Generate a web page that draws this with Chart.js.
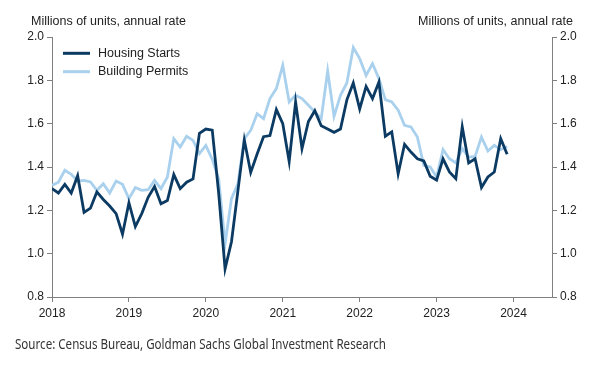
<!DOCTYPE html>
<html>
<head>
<meta charset="utf-8">
<script src="https://cdn.jsdelivr.net/npm/chart.js@4"></script>
<style>
html,body{margin:0;padding:0;background:#fff;}
#wrap{position:relative;width:589px;height:372px;}
</style>
</head>
<body>
<div id="wrap"><canvas id="c" width="589" height="372"></canvas></div>
<script>
// Monthly data, Jan 2018 .. Dec 2023 (millions of units, SAAR)
const startYear = 2018;
const seriesNames = ["Housing Starts", "Building Permits"];
const housingStarts = [
  1.30,1.28,1.32,1.28,1.36,1.19,1.21,1.285,1.25,1.22,1.185,1.09,
  1.235,1.125,1.185,1.26,1.31,1.23,1.245,1.365,1.30,1.33,1.345,1.555,
  1.575,1.57,1.28,0.93,1.055,1.29,1.525,1.375,1.46,1.54,1.545,1.665,
  1.60,1.425,1.70,1.485,1.61,1.66,1.59,1.575,1.56,1.575,1.71,1.788,
  1.668,1.772,1.716,1.792,1.542,1.562,1.369,1.505,1.469,1.438,1.428,1.357,
  1.339,1.438,1.377,1.346,1.585,1.419,1.438,1.305,1.354,1.377,1.531,1.459
];
const buildingPermits = [
  1.315,1.33,1.385,1.366,1.335,1.338,1.331,1.292,1.323,1.28,1.335,1.32,
  1.254,1.305,1.292,1.295,1.338,1.30,1.354,1.531,1.492,1.542,1.523,1.462,
  1.50,1.435,1.346,1.046,1.254,1.323,1.531,1.569,1.646,1.623,1.716,1.762,
  1.869,1.70,1.731,1.716,1.685,1.654,1.623,1.843,1.634,1.731,1.788,1.951,
  1.90,1.823,1.877,1.808,1.711,1.70,1.662,1.592,1.585,1.538,1.408,1.40,
  1.354,1.48,1.438,1.419,1.485,1.446,1.449,1.538,1.474,1.50,1.48,1.495
];
const yTicks = [0.8,1.0,1.2,1.4,1.6,1.8,2.0];
const xTickYears = [2018,2019,2020,2021,2022,2023,2024];
const axisTitle = "Millions of units, annual rate";
const sourceText = "Source: Census Bureau, Goldman Sachs Global Investment Research";

const colStarts = "#0b3a62";
const colPermits = "#a9d1ee";
const axisCol = "#7f7f7f";
const textCol = "#222222";

const toPts = arr => arr.map((v,i)=>({x:i, y:v}));

const overlay = {
  id:'overlay',
  afterDraw(chart){
    const ctx = chart.ctx;
    ctx.save();
    // axis titles
    ctx.fillStyle = textCol;
    ctx.font = '12.5px "Liberation Sans", Arial, sans-serif';
    ctx.textBaseline = 'middle';
    ctx.textAlign = 'left';
    ctx.fillText(axisTitle, 31, 21.5);
    ctx.textAlign = 'right';
    ctx.fillText(axisTitle, 573, 21.5);
    // legend
    const ds = chart.data.datasets;
    const rows = [53.3, 71.7];
    ds.forEach((d,i)=>{
      ctx.strokeStyle = d.borderColor;
      ctx.lineWidth = 3;
      ctx.beginPath();
      ctx.moveTo(63, rows[i]);
      ctx.lineTo(90, rows[i]);
      ctx.stroke();
      ctx.fillStyle = textCol;
      ctx.textAlign = 'left';
      ctx.font = '12.5px "Liberation Sans", Arial, sans-serif';
      ctx.fillText(d.label, 98, rows[i]);
    });
    // source (condensed humanist look)
    ctx.fillStyle = '#333333';
    ctx.font = '15px "Noto Sans", "Open Sans", sans-serif';
    ctx.textAlign = 'left';
    const w = ctx.measureText(sourceText).width;
    const targetW = 371;
    ctx.translate(15, 344.5);
    ctx.scale(targetW / w, 1);
    ctx.fillText(sourceText, 0, 0);
    ctx.restore();
  }
};

new Chart(document.getElementById('c'), {
  type:'line',
  data:{
    datasets:[
      {label:seriesNames[0], data:toPts(housingStarts), borderColor:colStarts, backgroundColor:colStarts,
       borderWidth:2.8, pointRadius:0, tension:0, yAxisID:'y'},
      {label:seriesNames[1], data:toPts(buildingPermits), borderColor:colPermits, backgroundColor:colPermits,
       borderWidth:2.8, pointRadius:0, tension:0, yAxisID:'y'}
    ]
  },
  options:{
    responsive:false, animation:false,
    layout:{padding:{top:37, bottom:45, left:0, right:0}},
    plugins:{legend:{display:false}, tooltip:{enabled:false}},
    scales:{
      x:{
        type:'linear', min:0, max:78,
        afterBuildTicks(s){ s.ticks = xTickYears.map(y=>({value:(y-startYear)*12})); },
        afterFit(s){ s.height = 30; },
        grid:{drawOnChartArea:false, drawTicks:true, tickLength:5, color:axisCol, lineWidth:1},
        border:{display:true, color:axisCol, width:1},
        ticks:{color:textCol, font:{size:12, family:'"Liberation Sans", Arial, sans-serif'}, padding:4,
               maxRotation:0, autoSkip:false,
               callback:(v)=> String(startYear + v/12)}
      },
      y:{
        position:'left', min:0.8, max:2.0,
        afterBuildTicks(s){ s.ticks = yTicks.map(v=>({value:v})); },
        afterFit(s){ s.width = 52; },
        grid:{drawOnChartArea:false, drawTicks:true, tickLength:5, color:axisCol, lineWidth:1},
        border:{display:true, color:axisCol, width:1},
        ticks:{color:textCol, font:{size:12, family:'"Liberation Sans", Arial, sans-serif'}, padding:3,
               callback:(v)=> Number(v).toFixed(1)}
      },
      y2:{
        position:'right', min:0.8, max:2.0,
        afterBuildTicks(s){ s.ticks = yTicks.map(v=>({value:v})); },
        afterFit(s){ s.width = 37; },
        grid:{drawOnChartArea:false, drawTicks:true, tickLength:5, color:axisCol, lineWidth:1},
        border:{display:true, color:axisCol, width:1},
        ticks:{color:textCol, font:{size:12, family:'"Liberation Sans", Arial, sans-serif'}, padding:3,
               callback:(v)=> Number(v).toFixed(1)}
      }
    }
  },
  plugins:[overlay]
});
</script>
</body>
</html>
